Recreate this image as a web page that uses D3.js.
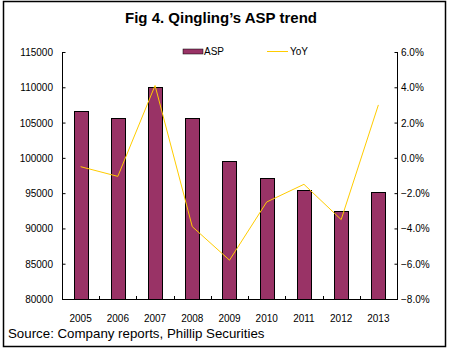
<!DOCTYPE html>
<html lang="en">
<head>
  <meta charset="UTF-8">
  <title>Fig 4. Qingling's ASP trend</title>
  <script src="https://d3js.org/d3.v7.min.js"></script>
  <style>
    body {
      margin: 0;
      background: #fff;
    }

    svg {
      font-family: Arial, "Liberation Sans", sans-serif;
      display: block;
    }

    .tick-label {
      font-size: 10px;
      fill: #000;
    }
  </style>
</head>
<body>

<svg width="451" height="354"></svg>

<script>
  // Data
  const years = ["2005", "2006", "2007", "2008", "2009", "2010", "2011", "2012", "2013"];
  const asp = [106600, 105600, 110000, 105600, 99500, 97100, 95500, 92400, 95200];
  const yoy = [-0.5, -1.05, 4.1, -3.9, -5.8, -2.5, -1.5, -3.5, 3.0];
  const leftTicks = [80000, 85000, 90000, 95000, 100000, 105000, 110000, 115000];
  const rightTicks = [-8, -6, -4, -2, 0, 2, 4, 6];

  const barColor = "#993366",
        lineColor = "#ffcc00";

  const svg = d3.select("svg");

  // outer frame
  svg.append("rect")
    .attr("x", 3.5)
    .attr("y", 1.5)
    .attr("width", 442)
    .attr("height", 345)
    .attr("fill", "none")
    .attr("stroke", "#000")
    .attr("stroke-width", 1.5);

  // title
  svg.append("text")
    .attr("x", 221)
    .attr("y", 23)
    .attr("text-anchor", "middle")
    .attr("font-size", "15px")
    .attr("font-weight", "bold")
    .text("Fig 4. Qingling\u2019s ASP trend");

  const plot = {left: 62, right: 397, top: 52, bottom: 299};

  const x = d3.scaleBand()
    .domain(years)
    .range([plot.left, plot.right])
    .paddingInner(0.62)
    .paddingOuter(0.31);

  const xb = d3.scaleBand()
    .domain(years)
    .range([plot.left, plot.right]);

  const yL = d3.scaleLinear()
    .domain([80000, 115000])
    .range([plot.bottom, plot.top]);

  const yR = d3.scaleLinear()
    .domain([-8, 6])
    .range([plot.bottom, plot.top]);

  // bars
  svg.selectAll(".bar")
    .data(years)
    .enter()
    .append("rect")
    .attr("class", "bar")
    .attr("x", d => Math.round(x(d)) + 0.5)
    .attr("y", (d, i) => Math.round(yL(asp[i])) + 0.5)
    .attr("width", Math.round(x.bandwidth()))
    .attr("height", (d, i) => Math.round(plot.bottom - yL(asp[i])))
    .attr("fill", barColor)
    .attr("stroke", "#000")
    .attr("stroke-width", 1);

  // left axis
  const leftAxis = svg.append("g")
    .attr("transform", `translate(${plot.left + 0.5},0)`)
    .call(d3.axisRight(yL).tickValues(leftTicks).tickSize(3).tickFormat(""));
  leftAxis.select(".domain").attr("d", `M0,${plot.top}V${plot.bottom}`);
  leftAxis.selectAll("line").attr("stroke", "#000");

  svg.selectAll(".lt")
    .data(leftTicks)
    .enter()
    .append("text")
    .attr("class", "tick-label")
    .attr("x", 53)
    .attr("y", d => yL(d) + 4)
    .attr("text-anchor", "end")
    .text(d => d);

  // right axis
  const rightAxis = svg.append("g")
    .attr("transform", `translate(${plot.right + 0.5},0)`)
    .call(d3.axisLeft(yR).tickValues(rightTicks).tickSize(3).tickFormat(""));
  rightAxis.select(".domain").attr("d", `M0,${plot.top}V${plot.bottom}`);

  svg.selectAll(".rt")
    .data(rightTicks)
    .enter()
    .append("text")
    .attr("class", "tick-label")
    .attr("x", 401)
    .attr("y", d => yR(d) + 4)
    .text(d => d3.format(".1f")(d) + "%");

  // x axis with tick marks between categories
  svg.append("line")
    .attr("x1", plot.left)
    .attr("x2", plot.right + 1)
    .attr("y1", plot.bottom + 0.5)
    .attr("y2", plot.bottom + 0.5)
    .attr("stroke", "#000");

  svg.selectAll(".xt")
    .data(years.slice(1))
    .enter()
    .append("line")
    .attr("x1", d => Math.round(xb(d)) + 0.5)
    .attr("x2", d => Math.round(xb(d)) + 0.5)
    .attr("y1", plot.bottom)
    .attr("y2", plot.bottom - 3)
    .attr("stroke", "#000");

  svg.selectAll(".xl")
    .data(years)
    .enter()
    .append("text")
    .attr("class", "tick-label")
    .attr("x", d => xb(d) + xb.bandwidth() / 2)
    .attr("y", 322)
    .attr("text-anchor", "middle")
    .text(d => d);

  // YoY line
  const line = d3.line()
    .x((d, i) => xb(years[i]) + xb.bandwidth() / 2)
    .y(d => yR(d));

  svg.append("path")
    .datum(yoy)
    .attr("d", line)
    .attr("fill", "none")
    .attr("stroke", lineColor)
    .attr("stroke-width", 1);

  // legend
  svg.append("rect")
    .attr("x", 183)
    .attr("y", 49)
    .attr("width", 20)
    .attr("height", 5)
    .attr("fill", barColor)
    .attr("stroke", "#000")
    .attr("stroke-width", 0.5);
  svg.append("text")
    .attr("class", "tick-label")
    .attr("x", 204)
    .attr("y", 55)
    .attr("font-size", "11px")
    .text("ASP");

  svg.append("line")
    .attr("x1", 267)
    .attr("x2", 288)
    .attr("y1", 51.5)
    .attr("y2", 51.5)
    .attr("stroke", lineColor);
  svg.append("text")
    .attr("class", "tick-label")
    .attr("x", 290)
    .attr("y", 55)
    .text("YoY");

  // source
  svg.append("text")
    .attr("x", 8)
    .attr("y", 338)
    .attr("font-size", "13.3px")
    .text("Source: Company reports, Phillip Securities");
</script>

</body>
</html>
